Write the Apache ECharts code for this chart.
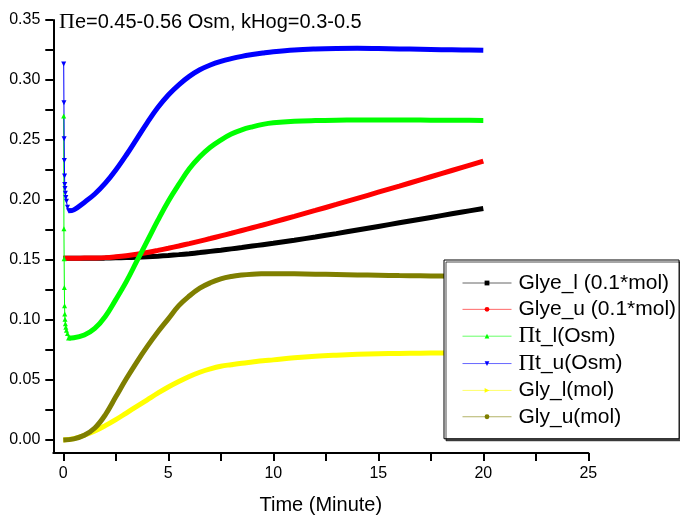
<!DOCTYPE html>
<html>
<head>
<meta charset="utf-8">
<script src="https://cdn.jsdelivr.net/npm/echarts@6/dist/echarts.min.js"></script>
<style>
  html, body { margin: 0; padding: 0; background: #fff; }
  #chart { width: 680px; height: 520px; }
</style>
</head>
<body>
<div id="chart"></div>
<script>
// Time grid (minutes) shared by the Glye / Gly curves
const minutes = [0, 0.5, 1, 1.5, 2, 2.5, 3, 3.5, 4, 4.5, 5, 5.5, 6, 6.5, 7, 7.5, 8, 8.5, 9, 9.5, 10,
                 11, 12, 13, 14, 15, 16, 17, 18, 19, 20];
// Time grid for the osmolarity curves after the initial drop
const piMinutes = [0.25, 0.5, 1, 1.5, 2, 2.5, 3, 3.5, 4, 4.5, 5, 5.5, 6, 6.5, 7, 7.5, 8, 8.5, 9, 9.5, 10,
                   11, 12, 13, 14, 15, 16, 17, 18, 19, 20];
// Early samples of the fast initial osmolarity drop
const spikeMinutes = [0.02, 0.03, 0.04, 0.05, 0.06, 0.07, 0.08, 0.1, 0.12, 0.15, 0.2, 0.25];

const glyeL = [0.1515, 0.1515, 0.1515, 0.1515, 0.1516, 0.1518, 0.1520, 0.1523, 0.1527, 0.1532, 0.1538, 0.1545,
               0.1553, 0.1562, 0.1572, 0.1582, 0.1593, 0.1604, 0.1616, 0.1628, 0.1640,
               0.1665, 0.1692, 0.1720, 0.1750, 0.1780, 0.1810, 0.1840, 0.1870, 0.1900, 0.1930];
const glyeU = [0.1515, 0.1515, 0.1516, 0.1517, 0.1520, 0.1527, 0.1536, 0.1548, 0.1563, 0.1580, 0.1598, 0.1617,
               0.1637, 0.1658, 0.1679, 0.1701, 0.1723, 0.1746, 0.1769, 0.1792, 0.1816,
               0.1864, 0.1913, 0.1963, 0.2014, 0.2065, 0.2116, 0.2168, 0.2220, 0.2272, 0.2324];
const piLSpike = [0.270, 0.176, 0.151, 0.127, 0.112, 0.105, 0.1006, 0.097, 0.094, 0.0915, 0.0887, 0.085];
const piUSpike = [0.3134, 0.281, 0.251, 0.233, 0.220, 0.213, 0.2096, 0.2056, 0.202, 0.199, 0.194, 0.191];
const piL = [0.0850, 0.0852, 0.0875, 0.0930, 0.1030, 0.1170, 0.1320, 0.1490, 0.1660, 0.1830, 0.1990, 0.2130,
             0.2260, 0.2360, 0.2440, 0.2500, 0.2550, 0.2585, 0.2610, 0.2630, 0.2643,
             0.2656, 0.2662, 0.2665, 0.2666, 0.2666, 0.2666, 0.2666, 0.2665, 0.2664, 0.2663];
const piU = [0.1910, 0.1918, 0.1980, 0.2050, 0.2140, 0.2250, 0.2375, 0.2510, 0.2645, 0.2770, 0.2875, 0.2960,
             0.3030, 0.3085, 0.3125, 0.3155, 0.3178, 0.3197, 0.3212, 0.3225, 0.3236,
             0.3251, 0.3259, 0.3263, 0.3264, 0.3262, 0.3259, 0.3256, 0.3253, 0.3250, 0.3247];
const glyL = [0, 0.0012, 0.0040, 0.0075, 0.0120, 0.0170, 0.0225, 0.0280, 0.0335, 0.0390, 0.0442, 0.0488,
              0.0530, 0.0565, 0.0593, 0.0615, 0.0628, 0.0640, 0.0650, 0.0660, 0.0668,
              0.0685, 0.0698, 0.0707, 0.0714, 0.0719, 0.0722, 0.0724, 0.0725, 0.0725, 0.0725];
const glyU = [0, 0.0010, 0.0040, 0.0100, 0.0210, 0.0360, 0.0510, 0.0650, 0.0780, 0.0900, 0.1010, 0.1120,
              0.1200, 0.1265, 0.1310, 0.1343, 0.1363, 0.1375, 0.1382, 0.1385, 0.1386,
              0.1385, 0.1382, 0.1379, 0.1376, 0.1373, 0.1370, 0.1368, 0.1366, 0.1364, 0.1362];

const xTicks = [0, 5, 10, 15, 20, 25];
const xMinorTicks = [0, 2.5, 5, 7.5, 10, 12.5, 15, 17.5, 20, 22.5, 25];
const yTicks = [0, 0.05, 0.10, 0.15, 0.20, 0.25, 0.30, 0.35];
const yMinorTicks = [0, 0.025, 0.05, 0.075, 0.10, 0.125, 0.15, 0.175, 0.20, 0.225, 0.25, 0.275, 0.30, 0.325, 0.35];

const names = ['Glye_l (0.1*mol)', 'Glye_u (0.1*mol)', 'Πt_l(Osm)', 'Πt_u(Osm)', 'Gly_l(mol)', 'Gly_u(mol)'];
const colors = ['#000000', '#ff0000', '#00ff00', '#0000ff', '#ffff00', '#7f7f00'];

const FONT = 'Liberation Sans, Arial, sans-serif';
const SERIF = 'Liberation Serif, Times New Roman, serif';

const zip = (xs, ys) => xs.map((x, i) => [x, ys[i]]);

const SYM_DOWN = 'path://M0,0L10,0L5,10Z';
const SYM_RIGHT = 'path://M0,0L10,5L0,10Z';

function curve(name, color, xs, ys, symbol) {
  return {
    name, type: 'line', data: zip(xs, ys), smooth: 0.4,
    symbol, showSymbol: false, symbolSize: 5,
    lineStyle: { color, width: 5 }, itemStyle: { color },
    emphasis: { disabled: true }, animation: false
  };
}
function spike(name, color, xs, ys, symbol) {
  return {
    name, type: 'line', data: zip(xs, ys),
    symbol, showSymbol: true, symbolSize: 5,
    lineStyle: { color, width: 1 }, itemStyle: { color },
    emphasis: { disabled: true }, animation: false
  };
}

const chart = echarts.init(document.getElementById('chart'), null, { renderer: 'canvas' });
chart.setOption({
  animation: false,
  backgroundColor: '#ffffff',
  color: colors,
  title: {
    text: '{p|Π}e=0.45-0.56 Osm, kHog=0.3-0.5',
    left: 59, top: 11, padding: 0,
    textStyle: {
      fontFamily: FONT, fontSize: 20, fontWeight: 'normal', color: '#000',
      rich: { p: { fontFamily: SERIF, fontSize: 22, color: '#000' } }
    }
  },
  grid: { left: 53.3, right: 91.7, top: 20, bottom: 65, containLabel: false },
  xAxis: {
    type: 'value', min: -0.476, max: 25,
    name: 'Time (Minute)', nameLocation: 'middle', nameGap: 42,
    nameTextStyle: { fontFamily: FONT, fontSize: 20, color: '#000' },
    axisLine: { show: true, onZero: false, lineStyle: { color: '#000', width: 2 } },
    axisTick: { show: true, length: 8, customValues: xMinorTicks, lineStyle: { color: '#000', width: 2 } },
    axisLabel: { customValues: xTicks, margin: 13, fontFamily: FONT, fontSize: 16, color: '#000',
                 formatter: v => String(v) },
    splitLine: { show: false }
  },
  yAxis: {
    type: 'value', min: -0.0108, max: 0.35,
    axisLine: { show: true, onZero: false, lineStyle: { color: '#000', width: 2 } },
    axisTick: { show: true, length: 8, customValues: yMinorTicks, lineStyle: { color: '#000', width: 2 } },
    axisLabel: { customValues: yTicks, margin: 13, fontFamily: FONT, fontSize: 16, color: '#000',
                 formatter: v => v.toFixed(2) },
    splitLine: { show: false }
  },
  legend: {
    data: names,
    orient: 'vertical',
    left: 444, top: 260,
    padding: [12, 3, 11, 18],
    itemWidth: 49, itemHeight: 6, itemGap: 4.35,
    backgroundColor: '#ffffff',
    borderColor: '#000', borderWidth: 1,
    shadowColor: 'rgba(0,0,0,0.7)', shadowOffsetX: 2, shadowOffsetY: 2, shadowBlur: 0,
    lineStyle: { width: 1, opacity: 0.6 },
    selectedMode: false,
    formatter: n => n.replace('Π', '{p|Π}'),
    textStyle: {
      fontFamily: FONT, fontSize: 21, color: '#000', lineHeight: 22, padding: [0, 0, 0, 2],
      rich: { p: { fontFamily: SERIF, fontSize: 23, lineHeight: 22, color: '#000' } }
    }
  },
  series: [
    curve(names[0], colors[0], minutes, glyeL, 'rect'),
    curve(names[1], colors[1], minutes, glyeU, 'circle'),
    spike(names[2], colors[2], spikeMinutes, piLSpike, 'triangle'),
    curve(names[2], colors[2], piMinutes, piL, 'triangle'),
    spike(names[3], colors[3], spikeMinutes, piUSpike, SYM_DOWN),
    curve(names[3], colors[3], piMinutes, piU, SYM_DOWN),
    curve(names[4], colors[4], minutes, glyL, SYM_RIGHT),
    curve(names[5], colors[5], minutes, glyU, 'circle')
  ]
});
</script>
</body>
</html>
